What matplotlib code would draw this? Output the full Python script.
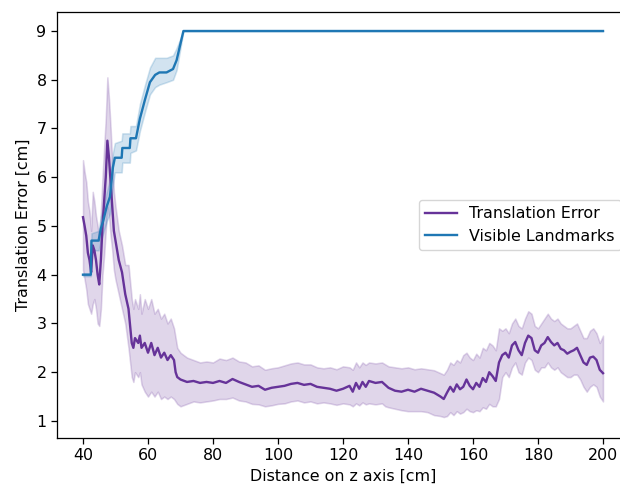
import numpy as np
import matplotlib
matplotlib.use("Agg")
import matplotlib.pyplot as plt

# erreur de translation : distance, moyenne, borne basse, borne haute
err_x = [40, 40.5, 41, 41.5, 42, 42.5, 43, 43.5, 44, 44.5, 45, 45.5, 46, 46.5, 47, 47.5,
         48, 48.5, 49, 49.5, 50, 51, 52, 53, 54, 55, 55.5, 56, 57, 57.5, 58, 59, 60, 61,
         62, 63, 64, 65, 66, 67, 68, 68.5, 69, 70, 72, 74, 76, 78, 80, 82, 84, 86, 88, 90,
         92, 94, 96, 98, 100, 102, 104, 106, 108, 110, 112, 114, 116, 118, 120, 122, 123,
         124, 125, 126, 127, 128, 130, 132, 133, 134, 136, 138, 140, 142, 144, 146, 148,
         150, 151, 152, 153, 154, 155, 156, 157, 158, 159, 160, 161, 162, 163, 164, 165,
         166, 167, 168, 169, 170, 171, 172, 173, 174, 175, 176, 177, 178, 179, 180, 181,
         182, 183, 184, 185, 186, 187, 188, 189, 190, 191, 192, 193, 194, 195, 196, 197,
         198, 199, 200]
err_mean = [5.18, 5.0, 4.8, 4.45, 4.3, 4.05, 4.6, 4.5, 4.3, 4.0, 3.8, 4.3, 5.0, 5.5, 6.0, 6.75,
            6.4, 5.9, 5.4, 4.9, 4.7, 4.3, 4.05, 3.6, 3.3, 2.6, 2.5, 2.7, 2.6, 2.75, 2.5, 2.6, 2.4, 2.6,
            2.35, 2.5, 2.3, 2.4, 2.25, 2.35, 2.25, 2.0, 1.9, 1.85, 1.8, 1.82, 1.78, 1.8, 1.78, 1.82,
            1.78, 1.86, 1.8, 1.75, 1.7, 1.72, 1.64, 1.68, 1.7, 1.72, 1.76, 1.78, 1.74, 1.76, 1.7,
            1.68, 1.66, 1.62, 1.66, 1.72, 1.6, 1.78, 1.66, 1.8, 1.7, 1.82, 1.78, 1.8, 1.74, 1.68,
            1.62, 1.6, 1.64, 1.6, 1.66, 1.62, 1.58, 1.5, 1.45, 1.58, 1.7, 1.6, 1.75, 1.65, 1.7,
            1.85, 1.72, 1.65, 1.78, 1.7, 1.88, 1.8, 2.0, 1.92, 1.82, 2.2, 2.35, 2.4, 2.3, 2.55,
            2.62, 2.45, 2.35, 2.6, 2.75, 2.7, 2.45, 2.4, 2.55, 2.6, 2.72, 2.62, 2.55, 2.6, 2.48,
            2.45, 2.38, 2.42, 2.45, 2.5, 2.35, 2.2, 2.15, 2.3, 2.32, 2.25, 2.05, 1.98]
err_lo = [4.1, 3.9, 3.7, 3.4, 3.3, 3.2, 3.4, 3.5, 3.3, 3.0, 2.95, 3.3, 4.0, 4.4, 4.9, 5.4,
          5.2, 4.8, 4.5, 4.1, 3.9, 3.6, 3.3, 3.0, 2.5, 1.9, 1.8, 2.0, 1.9, 2.0, 1.75, 1.6, 1.5, 1.6,
          1.5, 1.6, 1.45, 1.5, 1.45, 1.5, 1.45, 1.4, 1.35, 1.3, 1.35, 1.4, 1.38, 1.4, 1.42, 1.45,
          1.45, 1.48, 1.42, 1.4, 1.35, 1.34, 1.3, 1.32, 1.35, 1.36, 1.4, 1.42, 1.38, 1.4, 1.36,
          1.38, 1.36, 1.33, 1.36, 1.34, 1.3, 1.36, 1.32, 1.38, 1.34, 1.36, 1.34, 1.36, 1.3, 1.28,
          1.25, 1.22, 1.2, 1.2, 1.2, 1.18, 1.12, 1.1, 1.08, 1.1, 1.18, 1.12, 1.2, 1.15, 1.18,
          1.25, 1.2, 1.18, 1.22, 1.2, 1.28, 1.25, 1.35, 1.3, 1.3, 1.45, 1.9, 2.0, 1.9, 2.1,
          2.2, 2.0, 1.95, 2.2, 2.3, 2.25, 2.05, 2.0, 2.1, 2.1, 2.2, 2.1, 2.05, 2.1, 2.0,
          1.95, 1.9, 1.9, 1.95, 1.95, 1.85, 1.7, 1.6, 1.7, 1.75, 1.7, 1.5, 1.4]
err_hi = [6.35, 6.1, 5.9, 5.5, 5.3, 4.9, 5.7, 5.5, 5.2, 5.0, 4.7, 5.3, 6.0, 6.6, 7.2, 8.05,
          7.6, 7.0, 6.3, 5.7, 5.4, 4.9, 4.6, 4.2, 4.2, 3.5, 3.3, 3.5, 3.3, 3.6, 3.2, 3.5, 3.3, 3.5,
          3.2, 3.3, 3.1, 3.2, 3.0, 3.1, 2.9, 2.7, 2.5, 2.4, 2.3, 2.25, 2.2, 2.22, 2.2, 2.28,
          2.25, 2.3, 2.22, 2.2, 2.12, 2.14, 2.05, 2.08, 2.1, 2.14, 2.18, 2.2, 2.16, 2.16, 2.1,
          2.08, 2.1, 2.06, 2.12, 2.1, 2.05, 2.2, 2.1, 2.2, 2.15, 2.2, 2.18, 2.2, 2.16, 2.12,
          2.1, 2.08, 2.1, 2.06, 2.08, 2.06, 2.04, 1.98, 1.95, 2.05, 2.2, 2.15, 2.25, 2.2, 2.35,
          2.4, 2.3, 2.25, 2.38, 2.3, 2.5, 2.45, 2.6, 2.55, 2.45, 2.9, 2.85, 2.9, 2.8, 3.0,
          3.1, 2.95, 2.9, 3.1, 3.25, 3.2, 2.95, 2.9, 3.0, 3.1, 3.2, 3.1, 3.05, 3.1, 3.0,
          2.95, 2.9, 2.9, 2.95, 3.0, 2.85, 2.7, 2.7, 2.85, 2.9, 2.8, 2.6, 2.75]

# amers visibles : distance, moyenne, borne basse, borne haute
lm_x = [40, 42.4, 42.6, 44.8, 45.5, 46.2, 47.3, 48.3, 49.2, 49.8, 51.9, 52.1, 54.4, 54.6,
        56.3, 57.5, 59.1, 60.6, 62.2, 63.5, 65.7, 67.7, 68.8, 70.9, 200]
lm_mean = [4.0, 4.0, 4.7, 4.7, 4.95, 5.1, 5.4, 5.6, 6.2, 6.4, 6.4, 6.6, 6.6, 6.8,
           6.8, 7.2, 7.6, 7.95, 8.1, 8.15, 8.15, 8.22, 8.4, 9.0, 9.0]
lm_lo = [3.97, 3.97, 4.5, 4.5, 4.7, 4.85, 5.1, 5.25, 5.85, 6.1, 6.1, 6.3, 6.3, 6.5,
         6.55, 6.95, 7.35, 7.7, 7.85, 7.9, 7.95, 8.0, 8.2, 9.0, 9.0]
lm_hi = [4.03, 4.03, 4.85, 4.9, 5.2, 5.35, 5.7, 5.95, 6.5, 6.7, 6.75, 6.9, 6.9, 7.05,
         7.05, 7.5, 7.9, 8.25, 8.45, 8.45, 8.45, 8.5, 8.65, 9.0, 9.0]

violet = '#663399'
bleu = '#1f77b4'

# l'original est rendu un peu plus gros (~1.14x)
k = 1.14
plt.rcParams['font.size'] = 10 * k
plt.rcParams['axes.linewidth'] = 0.8 * k
plt.rcParams['xtick.major.size'] = 3.5 * k
plt.rcParams['ytick.major.size'] = 3.5 * k
plt.rcParams['xtick.major.width'] = 0.8 * k
plt.rcParams['ytick.major.width'] = 0.8 * k

fig = plt.figure(figsize=(6.2, 4.88), dpi=100)
ax = fig.add_axes([57/620, 1-438/488, 572/620, 426/488])

ax.plot(err_x, err_mean, color=violet, lw=1.5 * k, label='Translation Error')
ax.fill_between(err_x, err_lo, err_hi, color=violet, alpha=0.2, lw=1 * k)
ax.plot(lm_x, lm_mean, color=bleu, lw=1.5 * k, label='Visible Landmarks')
ax.fill_between(lm_x, lm_lo, lm_hi, color=bleu, alpha=0.2, lw=1 * k)

ax.set_xlim(32, 208)
ax.set_ylim(0.65, 9.39)
ax.set_xticks(np.arange(40, 201, 20))
ax.set_yticks(np.arange(1, 10))
ax.set_xlabel('Distance on z axis [cm]')
ax.set_ylabel('Translation Error [cm]')
ax.legend(loc='center right')

fig.savefig('out.png', dpi=100)
